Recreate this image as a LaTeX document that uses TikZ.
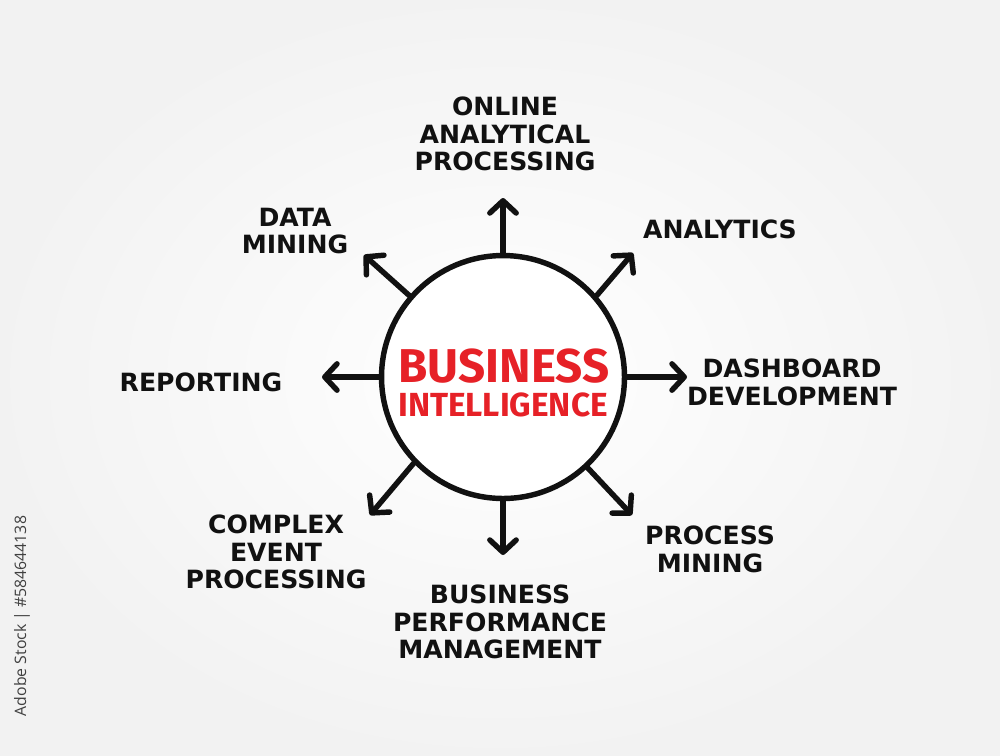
\documentclass[tikz,border=0pt]{standalone}
\usepackage{fontspec}
\setmainfont{Fira Sans}
\newfontfamily\wmfont{Open Sans}
\newfontfamily\handfont{DejaVu Sans}
\usetikzlibrary{arrows.meta}
\definecolor{bired}{HTML}{E62127}
\definecolor{ink}{HTML}{111111}
\begin{document}
\begin{tikzpicture}[x=0.02cm,y=-0.02cm,
  lbl/.style={font=\handfont\fontsize{14.3}{15.8}\selectfont\bfseries, text=ink, align=center, inner sep=0pt},
  spoke/.style={draw=ink, line width=3.1pt, line cap=round,
    -{Straight Barb[length=7pt,width=15pt,round]}},
  hub/.style={circle, draw=ink, line width=3.1pt, minimum size=4.86cm, fill=white, inner sep=0pt}]
\useasboundingbox (0,0) rectangle (1000,755);
\shade[inner color=white, outer color=black!5] (0,0) rectangle (1000,755);
\node[hub] (bi) at (503,377) {};
\node[font=\fontsize{27}{27}\selectfont\bfseries, text=bired, inner sep=0pt] (t1) at (504,366) {BUSINESS};
\node[font=\fontsize{19}{19}\selectfont\bfseries, text=bired, inner sep=0pt] (t2) at (503,405) {INTELLIGENCE};
% tips
\coordinate (pn) at (503,198);
\coordinate (ps) at (503,555);
\coordinate (pw) at (322,377);
\coordinate (pe) at (687,377);
\coordinate (pne) at (633,253);
\coordinate (pnw) at (364,255);
\coordinate (psw) at (370,515);
\coordinate (pse) at (632,515);
\draw[spoke] (bi.90) -- (pn);
\draw[spoke] (bi.-90) -- (ps);
\draw[spoke] (bi.180) -- (pw);
\draw[spoke] (bi.0) -- (pe);
\draw[spoke] (bi.41) -- (pne);
\draw[spoke] (bi.139) -- (pnw);
\draw[spoke] (bi.-136) -- (psw);
\draw[spoke] (bi.-47) -- (pse);
% labels
\node[lbl] (olap) at (505,134) {ONLINE\\ANALYTICAL\\PROCESSING};
\node[lbl] (ana) at (720,229) {ANALYTICS};
\node[lbl] (dm) at (295,231) {DATA\\MINING};
\node[lbl] (rep) at (201,382) {REPORTING};
\node[lbl] (dash) at (792,382) {DASHBOARD\\DEVELOPMENT};
\node[lbl] (pm) at (710,549) {PROCESS\\MINING};
\node[lbl] (bpm) at (500,622) {BUSINESS\\PERFORMANCE\\MANAGEMENT};
\node[lbl] (cep) at (276,552) {COMPLEX\\EVENT\\PROCESSING};
\node[font=\wmfont\fontsize{9}{9}\selectfont, text=black!75, rotate=90, inner sep=0pt] (wm) at (22,616) {Adobe Stock | \#584644138};
\end{tikzpicture}
\end{document}
